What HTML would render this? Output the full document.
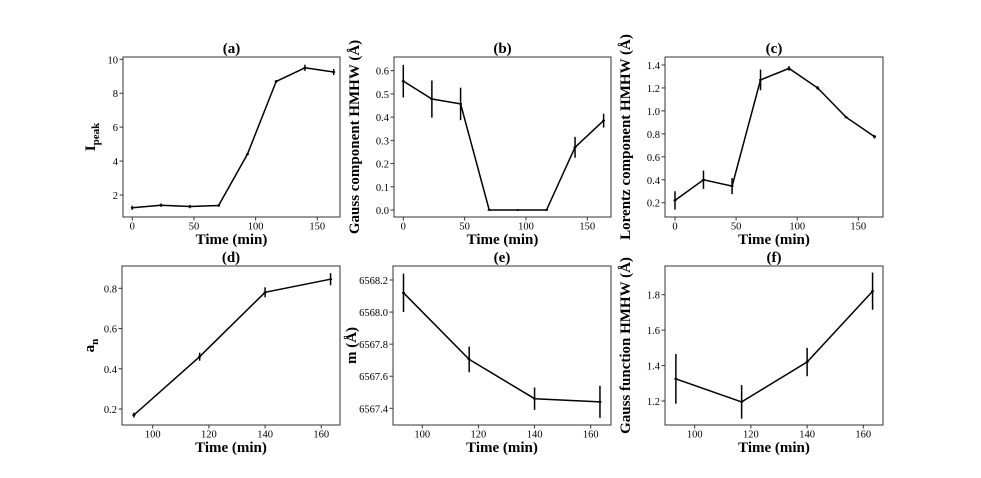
<!DOCTYPE html>
<html><head><meta charset="utf-8"><style>
html,body{margin:0;padding:0;background:#fff}
svg{display:block}
text{font-family:"Liberation Serif",serif;fill:#000}
</style></head><body>
<svg id="fig" width="981" height="478" viewBox="0 0 981 478" xmlns="http://www.w3.org/2000/svg"></svg>
<script>
// ---- data ----
const timesAll = [0, 23.3, 46.7, 70, 93.3, 116.7, 140, 163.3];
const timesLate = [93.3, 116.7, 140, 163.3];
const ipeakVals = [1.25, 1.4, 1.32, 1.38, 4.4, 8.7, 9.5, 9.25];
const ipeakErr = [0.12, 0.1, 0.1, 0.08, 0.05, 0.08, 0.18, 0.18];
const gaussCompVals = [0.555, 0.478, 0.457, 0, 0, 0, 0.27, 0.385];
const gaussCompErr = [0.07, 0.08, 0.07, 0, 0.003, 0, 0.045, 0.03];
const lorentzVals = [0.22, 0.40, 0.345, 1.27, 1.37, 1.20, 0.945, 0.775];
const lorentzErr = [0.08, 0.08, 0.07, 0.09, 0.02, 0.015, 0.01, 0.015];
const anVals = [0.17, 0.46, 0.78, 0.845];
const anErr = [0.012, 0.02, 0.025, 0.03];
const mVals = [6568.12, 6567.705, 6567.46, 6567.44];
const mErr = [0.12, 0.08, 0.07, 0.1];
const gaussFnVals = [1.325, 1.195, 1.42, 1.82];
const gaussFnErr = [0.14, 0.095, 0.08, 0.105];
const xTicksAll = [0, 50, 100, 150];
const xTicksLate = [100, 120, 140, 160];
const yTicksA = [2, 4, 6, 8, 10];
const yTicksB = [0.0, 0.1, 0.2, 0.3, 0.4, 0.5, 0.6];
const yTicksC = [0.2, 0.4, 0.6, 0.8, 1.0, 1.2, 1.4];
const yTicksD = [0.2, 0.4, 0.6, 0.8];
const yTicksE = [6567.4, 6567.6, 6567.8, 6568.0, 6568.2];
const yTicksF = [1.2, 1.4, 1.6, 1.8];

const NS = "http://www.w3.org/2000/svg";
const fig = document.getElementById('fig');
function el(tag, attrs, parent){const e=document.createElementNS(NS,tag);for(const k in attrs)e.setAttribute(k,attrs[k]);(parent||fig).appendChild(e);return e;}
function lin(v0,p0,v1,p1){return v=>p0+(v-v0)*(p1-p0)/(v1-v0);}

const panels = [
 {id:'a',box:[123,57,340,217],xs:lin(0,132.3,150,317.3),ys:lin(2,195,10,59.3),x:timesAll,y:ipeakVals,e:ipeakErr,xt:xTicksAll,yt:yTicksA,yf:v=>String(v),ylab:'I',sub:'peak',yoff:28},
 {id:'b',box:[394,57,611,217],xs:lin(0,403.3,150,587.3),ys:lin(0,210,0.6,70.7),x:timesAll,y:gaussCompVals,e:gaussCompErr,xt:xTicksAll,yt:yTicksB,yf:v=>v.toFixed(1),ylab:'Gauss component HMHW (Å)',yoff:35},
 {id:'c',box:[665,57,883,217],xs:lin(0,675,150,858.3),ys:lin(0.2,202.7,1.4,65),x:timesAll,y:lorentzVals,e:lorentzErr,xt:xTicksAll,yt:yTicksC,yf:v=>v.toFixed(1),ylab:'Lorentz component HMHW (Å)',yoff:35},
 {id:'d',box:[122,266,340,425],xs:lin(100,152.7,160,321.3),ys:lin(0.2,409,0.8,288.3),x:timesLate,y:anVals,e:anErr,xt:xTicksLate,yt:yTicksD,yf:v=>v.toFixed(1),ylab:'a',sub:'n',yoff:28},
 {id:'e',box:[393,266,611,425],xs:lin(100,422.3,160,590.7),ys:lin(6567.4,408.3,6568.2,280),x:timesLate,y:mVals,e:mErr,xt:xTicksLate,yt:yTicksE,yf:v=>v.toFixed(1),ylab:'m (Å)',yoff:37},
 {id:'f',box:[665,266,883,425],xs:lin(100,694.7,160,863.3),ys:lin(1.2,401,1.8,294.7),x:timesLate,y:gaussFnVals,e:gaussFnErr,xt:xTicksLate,yt:yTicksF,yf:v=>v.toFixed(1),ylab:'Gauss function HMHW (Å)',yoff:35}
];

panels.forEach(p=>{
  const [x0,y0,x1,y1]=p.box;
  const g=el('g',{});
  
  
  const frame=el('rect',{x:x0,y:y0,width:x1-x0,height:y1-y0,fill:'none',stroke:'#333','stroke-width':1},g);
  
  
  const t=el('text',{x:(x0+x1)/2,y:y0-4,'text-anchor':'middle','font-size':15,'font-weight':'bold'},g);
  t.textContent='('+p.id+')';
  
  
  p.xt.forEach(v=>{
    const X=p.xs(v);
    el('line',{x1:X,y1:y1,x2:X,y2:y1+3.5,stroke:'#333'},g);
    const tt=el('text',{x:X,y:y1+12.5,'text-anchor':'middle','font-size':10.5},g);
    tt.textContent=v;
    
    
  });
  p.yt.forEach(v=>{
    const Y=p.ys(v);
    el('line',{x1:x0,y1:Y,x2:x0-3.5,y2:Y,stroke:'#333'},g);
    const tt=el('text',{x:x0-5,y:Y+4,'text-anchor':'end','font-size':10.5},g);
    tt.textContent=p.yf(v);
    
    
  });
  const xl=el('text',{x:(x0+x1)/2,y:y1+27,'text-anchor':'middle','font-size':15,'font-weight':'bold'},g);
  xl.textContent='Time (min)';
  
  
  const ylx = x0-p.yoff;
  const yl=el('text',{x:ylx,y:(y0+y1)/2,'text-anchor':'middle','font-size':15,'font-weight':'bold',transform:`rotate(-90 ${ylx} ${(y0+y1)/2})`},g);
  yl.textContent=p.ylab;
  if(p.sub){const ts=el('tspan',{'font-size':11,dy:4},yl);ts.textContent=p.sub;}
  
  
  const pts=p.x.map((xv,i)=>p.xs(xv).toFixed(1)+','+p.ys(p.y[i]).toFixed(1)).join(' ');
  const line=el('polyline',{points:pts,fill:'none',stroke:'#000','stroke-width':1.5},g);
  
  
  p.x.forEach((xv,i)=>{
    const X=p.xs(xv);
    const eb=el('line',{x1:X,x2:X,y1:p.ys(p.y[i]-p.e[i]),y2:p.ys(p.y[i]+p.e[i]),stroke:'#000','stroke-width':1.5},g);
    
    
    const tk=el('line',{x1:X-1.5,x2:X+1.5,y1:p.ys(p.y[i]),y2:p.ys(p.y[i]),stroke:'#000','stroke-width':1.5},g);
    
    
  });
});
</script>
</body></html>
